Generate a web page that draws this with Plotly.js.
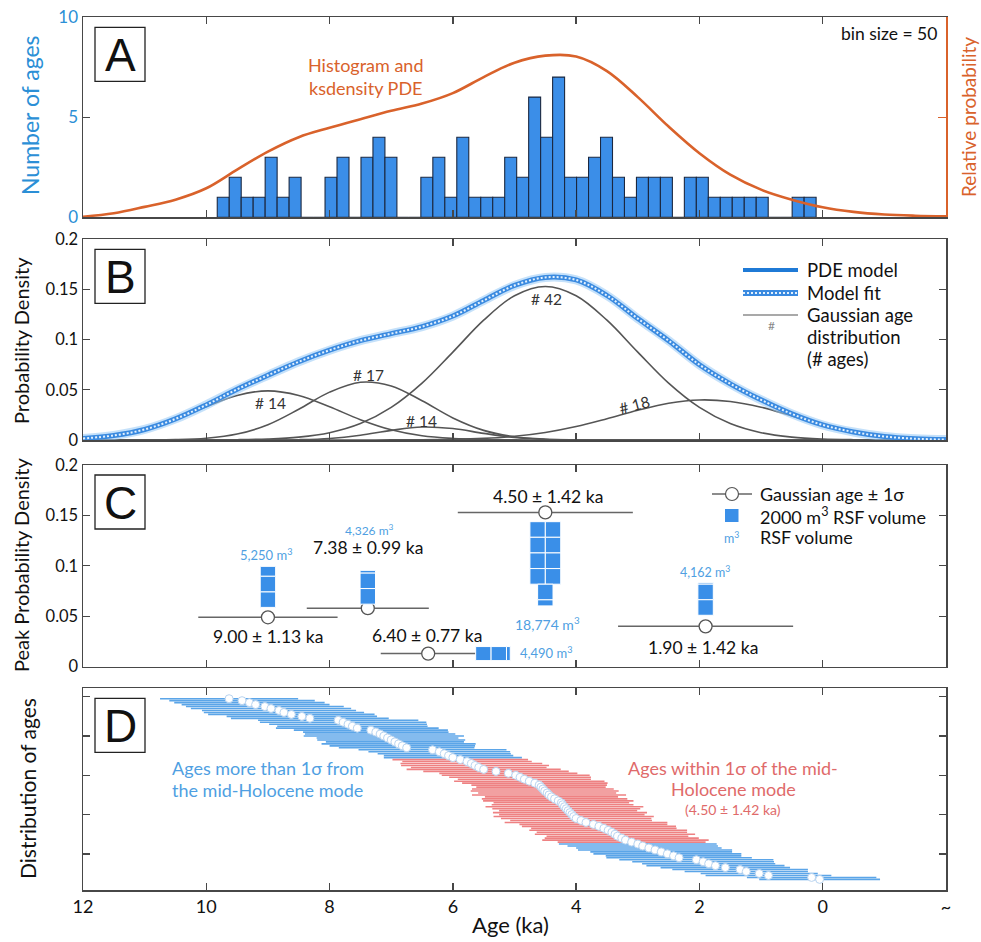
<!DOCTYPE html>
<html><head><meta charset="utf-8">
<script src="https://cdn.plot.ly/plotly-3.0.1.min.js"></script>
<style>html,body{margin:0;padding:0;background:#fff}#chart{width:981px;height:942px}</style>
</head><body><div id="chart"></div>
<script>
// ================= DATA =================
// Panel A: histogram of ages (50 bins, oldest first) and ksdensity PDE
const histFirstBinCenter = 9.725;   // ka
const histBinWidth = 0.1943;        // ka
const histCounts = [1,2,1,1,3,1,2,0,0,2, 3,0,3,4,3,0,0,2,3,1, 4,1,1,1,3,2,6,4,7,2, 2,3,4,2,1,2,2,2,0,2, 2,1,1,1,1,1,0,0,1,1];
const agesA = [12,11.5,11,10.5,10,9.5,9,8.5,8,7.5,7,6.5,6,5.5,5,4.5,4,3.5,3,2.5,2,1.5,1,0.5,0,-0.5,-1,-1.5,-2];
const pdeA  = [0.003,0.020,0.052,0.088,0.145,0.238,0.328,0.400,0.447,0.490,0.532,0.568,0.620,0.700,0.772,0.807,0.803,0.730,0.600,0.453,0.320,0.213,0.138,0.088,0.050,0.027,0.014,0.008,0.005];

// Panel B: PDE model / model fit and Gaussian components
const agesB = [12,11.5,11,10.5,10,9.5,9,8.5,8,7.5,7,6.5,6,5.5,5,4.5,4,3.5,3,2.5,2,1.5,1,0.5,0,-0.5,-1,-1.5,-2];
const modelFit = [0.0015,0.0045,0.0105,0.0210,0.0350,0.0505,0.0645,0.0780,0.0895,0.0990,0.1060,0.1130,0.1235,0.1390,0.1540,0.1620,0.1595,0.1440,0.1210,0.0990,0.0750,0.0560,0.0400,0.0260,0.0150,0.0080,0.0035,0.0013,0.0004];
const gauss1 = [0.0015,0.0042,0.0102,0.0203,0.0331,0.0444,0.0490,0.0444,0.0331,0.0203,0.0102,0.0042,0.0015,0.0004,0.0001,0,0,0,0,0,0,0,0,0,0,0,0,0,0];
const gauss2 = [0,0,0.0001,0.0004,0.0018,0.0059,0.0152,0.0306,0.0477,0.0576,0.0539,0.0391,0.0220,0.0096,0.0032,0.0008,0.0002,0,0,0,0,0,0,0,0,0,0,0,0];
const gauss3 = [0,0,0,0,0,0,0,0.0003,0.0015,0.0047,0.0096,0.0129,0.0114,0.0066,0.0025,0.0006,0.0001,0,0,0,0,0,0,0,0,0,0,0,0];
const gauss4 = [0,0,0,0,0.0001,0.0003,0.0010,0.0029,0.0073,0.0164,0.0325,0.0567,0.0876,0.1194,0.1438,0.1530,0.1438,0.1194,0.0876,0.0567,0.0325,0.0164,0.0073,0.0029,0.0010,0.0003,0.0001,0,0];
const gauss5 = [0,0,0,0,0,0,0,0,0,0,0.0001,0.0002,0.0006,0.0016,0.0037,0.0075,0.0134,0.0212,0.0296,0.0366,0.0399,0.0384,0.0327,0.0240,0.0150,0.0080,0.0035,0.0013,0.0004];

// Panel C: Gaussian modes
const modeAge   = [9.00, 7.38, 6.40, 4.50, 1.90];
const modeSigma = [1.13, 0.99, 0.77, 1.42, 1.42];
const modePeak  = [0.049, 0.058, 0.013, 0.153, 0.040];
const modeCount = [14, 17, 14, 42, 18];
const rsfVolume = [5250, 4326, 4490, 18774, 4162];
const rsfBlock  = 2000;

// Panel D: sorted ages with uncertainties
const agesD = [9.63,9.42,9.30,9.20,9.05,8.95,8.82,8.74,8.62,8.45,
 8.32,7.86,7.78,7.70,7.63,7.55,7.33,7.25,7.18,7.12,
 7.06,7.00,6.94,6.88,6.82,6.75,6.33,6.22,6.14,6.07,
 6.00,5.88,5.77,5.70,5.64,5.58,5.50,5.30,5.10,4.98,
 4.91,4.84,4.76,4.67,4.60,4.57,4.54,4.51,4.47,4.44,
 4.40,4.35,4.29,4.24,4.22,4.19,4.16,4.13,4.10,4.07,
 4.04,4.00,3.92,3.84,3.72,3.63,3.55,3.48,3.42,3.37,
 3.33,3.26,3.20,3.10,3.00,2.92,2.82,2.72,2.62,2.52,
 2.42,2.33,2.05,1.94,1.85,1.74,1.58,1.34,1.24,1.03,
 0.88,0.18,0.05];
const errD = [1.12,1.18,1.22,1.20,1.28,1.30,1.25,1.30,1.35,1.22,
 1.28,1.30,1.35,1.28,1.22,1.32,1.25,1.18,1.22,1.30,
 1.15,1.20,1.12,1.25,1.18,1.10,1.20,1.15,1.08,1.05,
 1.12,1.10,1.05,1.15,1.20,1.10,1.25,1.18,1.12,1.20,
 1.15,1.08,1.22,1.18,1.10,1.05,1.15,1.20,1.12,1.25,
 1.08,1.18,1.22,1.10,1.15,1.28,1.20,1.12,1.25,1.18,
 1.30,1.22,1.15,1.32,1.20,1.25,1.18,1.28,1.22,1.30,
 1.15,1.25,1.35,1.20,1.28,1.22,1.18,1.25,1.15,1.20,
 1.10,1.18,1.25,1.15,1.08,1.12,1.05,1.10,1.00,0.95,
 1.02,1.05,0.98];
const midMode = 3; // index of the mid-Holocene mode in modeAge

// Tick labels
const xTickVals = [12,10,8,6,4,2,0,-2];
const xTickText = ['12','10','8','6','4','2','0','~'];
const probTickVals = [0,0.05,0.1,0.15,0.2];
const probTickText = ['0','0.05','0.1','0.15','0.2'];

// ================= LAYOUT HELPERS =================
const L = 83, T = 17, PW = 863, PH = 873;
const px = x => (x - L) / PW;
const py = y => (T + PH - y) / PH;
const FONT = 'Lato, "Open Sans", sans-serif';
const BLUE_T = '#2b8fd6', ORANGE = '#d9622b', LBLUE = '#4f9fe2', RED_T = '#e06a6a';
const FRAME = '#474747';

function ann(text, x, y, size, color, extra) {
  return Object.assign({text, x: px(x), y: py(y), xref:'paper', yref:'paper', showarrow:false,
    xanchor:'center', yanchor:'middle', font:{family:FONT, size:size, color:color}}, extra || {});
}

function xax(anchor, labels) {
  return {domain:[0,1], anchor, range:[12,-2], tickvals:xTickVals, ticktext:xTickText,
    showticklabels:labels, ticks:'inside', ticklen:7, tickwidth:1.3, tickcolor:FRAME,
    showline:true, linecolor:FRAME, linewidth:1.5, mirror:'ticks', showgrid:false, zeroline:false,
    tickfont:{family:FONT, size:18, color:'#111'}};
}
function yprob(dom, anchor) {
  return {domain:dom, anchor, range:[0,0.2], tickvals:probTickVals, ticktext:probTickText,
    ticks:'inside', ticklen:7, tickwidth:1.3, tickcolor:FRAME, showline:true, linecolor:FRAME,
    linewidth:1.5, mirror:'ticks', showgrid:false, zeroline:false,
    tickfont:{family:FONT, size:16.5, color:'#111'}};
}

const domA = [py(217.3), 1];
const domB = [py(440), py(239.3)];
const domC = [py(666.7), py(465)];
const domD = [0, py(688.3)];

// ================= TRACES =================
const traces = [];
// A
traces.push({type:'bar', x0:histFirstBinCenter, dx:-histBinWidth, y:histCounts, width:histBinWidth,
  xaxis:'x', yaxis:'y', marker:{color:'#3b8ee8', line:{color:'#1b2840', width:1.1}}, hoverinfo:'skip'});
traces.push({type:'scatter', mode:'lines', x:agesA, y:pdeA, xaxis:'x', yaxis:'y5',
  line:{color:ORANGE, width:2.6, shape:'spline'}, hoverinfo:'skip'});
// B
[gauss1, gauss2, gauss3, gauss4, gauss5].forEach(g => traces.push({type:'scatter', mode:'lines', x:agesB, y:g,
  xaxis:'x2', yaxis:'y2', line:{color:'#555', width:1.6, shape:'spline'}, hoverinfo:'skip'}));
traces.push({type:'scatter', mode:'lines', x:agesB, y:modelFit, xaxis:'x2', yaxis:'y2',
  line:{color:'rgba(150,200,245,0.55)', width:9, shape:'spline'}, hoverinfo:'skip'});
traces.push({type:'scatter', mode:'lines', x:agesB, y:modelFit, xaxis:'x2', yaxis:'y2',
  line:{color:'#3a8ae0', width:5, shape:'spline'}, hoverinfo:'skip'});
traces.push({type:'scatter', mode:'lines', x:agesB, y:modelFit, xaxis:'x2', yaxis:'y2',
  line:{color:'#e4f1fd', width:2, shape:'spline', dash:'2px,2px'}, hoverinfo:'skip'});
// C
traces.push({type:'scatter', mode:'markers', x:modeAge, y:modePeak, xaxis:'x3', yaxis:'y3',
  error_x:{type:'data', array:modeSigma, color:'#666', thickness:1.5, width:0},
  marker:{symbol:'circle', size:13, color:'#fff', line:{color:'#555', width:1.3}}, hoverinfo:'skip'});
// D
const lo = modeAge[midMode] - modeSigma[midMode], hi = modeAge[midMode] + modeSigma[midMode];
const idxD = agesD.map((a, i) => i + 1);
const blueI = [], redI = [];
agesD.forEach((a, i) => (a >= lo && a <= hi ? redI : blueI).push(i));
function errTrace(ids, color) {
  return {type:'scatter', mode:'markers', x:ids.map(i => agesD[i]), y:ids.map(i => idxD[i]),
    xaxis:'x4', yaxis:'y4', marker:{size:1, color:'rgba(0,0,0,0)'},
    error_x:{type:'data', array:ids.map(i => errD[i]), color:color, thickness:1.6, width:0}, hoverinfo:'skip'};
}
traces.push(errTrace(blueI, '#5ba5e8'));
traces.push(errTrace(redI, '#ee8182'));
traces.push({type:'scatter', mode:'markers', x:agesD, y:idxD, xaxis:'x4', yaxis:'y4',
  marker:{size:8, color:'#ffffff', line:{color:'rgba(185,212,240,1)', width:1}}, hoverinfo:'skip'});

// ================= SHAPES =================
const shapes = [];
// panel letter boxes
const letters = [['A',17.3],['B',239.3],['C',465],['D',688.3]];
letters.forEach(([l, top]) => shapes.push({type:'rect', xref:'paper', yref:'paper',
  x0:px(95), x1:px(145), y0:py(top+64), y1:py(top+10), line:{color:'#222', width:1.3}, fillcolor:'#fff'}));

// RSF volume blocks (2000 m3 each)
const rsfStack = ['up','up','right','down2','up'];
const rsfGap = [0.0098, 0.004, 0, 0.0092, 0.011];
(function () {
  const bw = 0.25, bh = 0.0155, eps = 1e-6;
  modeAge.forEach((age, i) => {
    const n = rsfVolume[i] / rsfBlock, pk = modePeak[i], gap = rsfGap[i];
    const rect = (xa, xb, ya, yb) => shapes.push({type:'rect', xref:'x3', yref:'y3', x0:xa, x1:xb, y0:ya, y1:yb,
      fillcolor:'#3a8fe8', line:{color:'#ffffff', width:1}, layer:'above'});
    let left = n;
    if (rsfStack[i] === 'up') {
      let y = pk + gap;
      while (left > eps) { const f = Math.min(1, left); rect(age - bw/2, age + bw/2, y, y + f*bh); y += f*bh; left -= f; }
    } else if (rsfStack[i] === 'right') {
      let x = age - modeSigma[i];
      while (left > eps) { const f = Math.min(1, left); rect(x, x - f*bw, pk - bh*0.45, pk + bh*0.45); x -= f*bw; left -= f; }
    } else {
      let y = pk - gap;
      while (left >= 2) { rect(age, age + bw, y - bh, y); rect(age - bw, age, y - bh, y); y -= bh; left -= 2; }
      while (left > eps) { const f = Math.min(1, left); rect(age - bw/2, age + bw/2, y - f*bh, y); y -= f*bh; left -= f; }
    }
  });
})();

// B legend lines
shapes.push({type:'line', xref:'paper', yref:'paper', x0:px(743), x1:px(798), y0:py(270), y1:py(270), line:{color:'#1f7ad6', width:4}});
shapes.push({type:'line', xref:'paper', yref:'paper', x0:px(743), x1:px(798), y0:py(293), y1:py(293), line:{color:'#3a8ae0', width:6}});
shapes.push({type:'line', xref:'paper', yref:'paper', x0:px(743), x1:px(798), y0:py(293), y1:py(293), line:{color:'#e4f1fd', width:2, dash:'2px,2px'}});
shapes.push({type:'line', xref:'paper', yref:'paper', x0:px(743), x1:px(798), y0:py(315), y1:py(315), line:{color:'#555', width:1.2}});
// C legend
shapes.push({type:'line', xref:'paper', yref:'paper', x0:px(712), x1:px(752), y0:py(494), y1:py(494), line:{color:'#666', width:1.3}});
shapes.push({type:'circle', xref:'paper', yref:'paper', x0:px(725.5), x1:px(738.5), y0:py(500.5), y1:py(487.5), fillcolor:'#fff', line:{color:'#555', width:1.2}});
shapes.push({type:'rect', xref:'paper', yref:'paper', x0:px(725), x1:px(738.5), y0:py(522), y1:py(509), fillcolor:'#3a8fe8', line:{width:0}});

// ================= ANNOTATIONS =================
const A = [];
letters.forEach(([l, top]) => A.push(ann(l, 120, top + 37.5, 46, '#111', {font:{family:'"Liberation Sans", Arial, sans-serif', size:46, color:'#111'}})));
// axis titles
A.push(ann('Number of ages', 30, 115, 23, BLUE_T, {textangle:-90}));
A.push(ann('Relative probability', 968, 117, 19, ORANGE, {textangle:-90}));
A.push(ann('Probability Density', 21, 341, 20, '#111', {textangle:-90}));
A.push(ann('Peak Probability Density', 21, 565, 20, '#111', {textangle:-90}));
A.push(ann('Distribution of ages', 27, 789, 21, '#111', {textangle:-90}));
A.push(ann('Age (ka)', 510, 924, 22, '#111'));
// A
A.push(ann('Histogram and<br>ksdensity PDE', 366, 76.5, 18, ORANGE));
A.push(ann('bin size = ' + histCounts.length, 939, 33, 17.5, '#111', {xanchor:'right'}));
// B labels
const gLabelPos = [[270,403],[368,375],[421,421],[546,299],[634,405]];
const gLabelAng = [0,0,0,0,-15];
modeCount.forEach((c, i) => A.push(ann('# ' + c, gLabelPos[i][0], gLabelPos[i][1], 15.5, '#333', {textangle:gLabelAng[i]})));
A.push(ann('PDE model', 805, 270, 18.5, '#111', {xanchor:'left'}));
A.push(ann('Model fit', 805, 293, 18.5, '#111', {xanchor:'left'}));
A.push(ann('Gaussian age', 805, 315, 18.5, '#111', {xanchor:'left'}));
A.push(ann('distribution', 805, 336.5, 18.5, '#111', {xanchor:'left'}));
A.push(ann('(# ages)', 805, 358.5, 18.5, '#111', {xanchor:'left'}));
A.push(ann('#', 771.5, 326, 12, '#888'));
// C labels
const cLabelPos = [[267.5,637],[367.5,547.5],[426.7,636],[547.5,496],[703.3,647]];
modeAge.forEach((a, i) => A.push(ann(a.toFixed(2) + ' ± ' + modeSigma[i].toFixed(2) + ' ka', cLabelPos[i][0], cLabelPos[i][1], 17.5, '#111')));
const volLabelPos = [[266,554,'center',13],[369,529.5,'center',12],[518,652,'left',13],[547.5,623,'center',14],[705,571,'center',12.5]];
rsfVolume.forEach((v, i) => A.push(ann(v.toLocaleString('en-US') + ' m<sup>3</sup>', volLabelPos[i][0], volLabelPos[i][1], volLabelPos[i][3], LBLUE, {xanchor:volLabelPos[i][2]})));
A.push(ann('Gaussian age ± 1σ', 758, 494, 18, '#111', {xanchor:'left'}));
A.push(ann(rsfBlock + ' m<sup>3</sup> RSF volume', 758, 515.5, 18, '#111', {xanchor:'left'}));
A.push(ann('RSF volume', 758, 537, 18, '#111', {xanchor:'left'}));
A.push(ann('m<sup>3</sup>', 731.5, 537, 12.5, LBLUE));
// D labels
A.push(ann('Ages more than 1σ from', 170, 768, 18, LBLUE, {xanchor:'left'}));
A.push(ann('the mid-Holocene mode', 170, 790, 18, LBLUE, {xanchor:'left'}));
A.push(ann('Ages within 1σ of the mid-', 733, 768, 18, RED_T));
A.push(ann('Holocene mode', 733, 789, 18, RED_T));
A.push(ann('(' + modeAge[midMode].toFixed(2) + ' ± ' + modeSigma[midMode].toFixed(2) + ' ka)', 733, 809, 14, RED_T));

// ================= LAYOUT =================
const layout = {
  width:981, height:942, margin:{l:L, r:35, t:T, b:52}, paper_bgcolor:'#fff', plot_bgcolor:'rgba(0,0,0,0)',
  showlegend:false, font:{family:FONT, color:'#111'}, bargap:0,
  xaxis: xax('y', false), xaxis2: xax('y2', false), xaxis3: xax('y3', false), xaxis4: xax('y4', true),
  yaxis: {domain:domA, anchor:'x', range:[0,10], tickvals:[0,5,10], ticks:'inside', ticklen:7, tickwidth:1.3,
    tickcolor:FRAME, showline:true, linecolor:FRAME, linewidth:1.5, showgrid:false, zeroline:false,
    tickfont:{family:FONT, size:17, color:BLUE_T}},
  yaxis5: {overlaying:'y', side:'right', anchor:'x', range:[0,1], tickvals:[0.5], showticklabels:false,
    ticks:'inside', ticklen:8, tickwidth:1.3, tickcolor:ORANGE, showline:true, linecolor:ORANGE, linewidth:1.5,
    showgrid:false, zeroline:false},
  yaxis2: yprob(domB, 'x2'),
  yaxis3: yprob(domC, 'x3'),
  yaxis4: {domain:domD, anchor:'x4', range:[98.4,-4.3], tickvals:[0,20,40,60,80], showticklabels:false,
    ticks:'inside', ticklen:7, tickwidth:1.3, tickcolor:FRAME, showline:true, linecolor:FRAME, linewidth:1.5,
    mirror:'ticks', showgrid:false, zeroline:false},
  shapes: shapes, annotations: A
};
Plotly.newPlot('chart', traces, layout, {displayModeBar:false, staticPlot:true});
</script></body></html>
